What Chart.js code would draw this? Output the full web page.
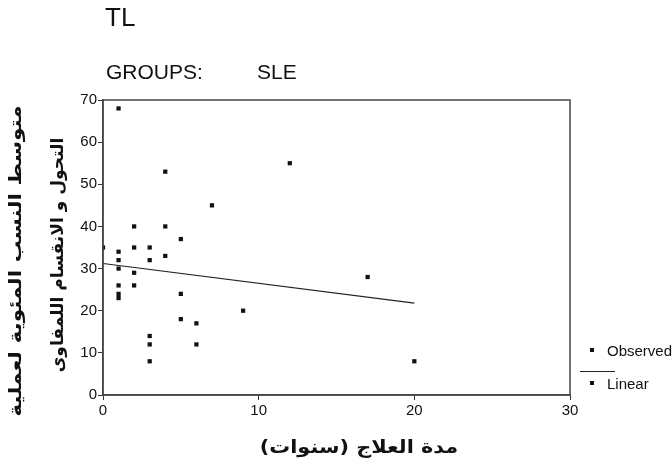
<!DOCTYPE html>
<html>
<head>
<meta charset="utf-8">
<script src="https://cdn.jsdelivr.net/npm/chart.js@4/dist/chart.umd.min.js"></script>
<style>
  html, body { margin: 0; padding: 0; background: #fff; }
  #wrap { position: relative; width: 672px; height: 466px; overflow: hidden; background: #fff; }
  canvas { position: absolute; left: 0; top: 0; }
  .t { position: absolute; font-family: "Liberation Sans", Arial, sans-serif; color: #111; line-height: 1; white-space: nowrap; }
  .ar { position: absolute; font-family: "DejaVu Sans", sans-serif; font-weight: bold; color: #111; line-height: 1; white-space: nowrap; }
  .mk { position: absolute; width: 4px; height: 4px; background: #111; }
  .ln { position: absolute; height: 1px; background: #222; }
</style>
</head>
<body>
<div id="wrap">
  <canvas id="c" width="672" height="466"></canvas>
  <div class="t" style="left:105px; top:4px; font-size:26px;">TL</div>
  <div class="t" style="left:106px; top:61px; font-size:21px;">GROUPS:</div>
  <div class="t" style="left:257px; top:61px; font-size:21px;">SLE</div>
  <div class="mk" style="left:590px; top:348px;"></div>
  <div class="t" style="left:607px; top:343px; font-size:15px;">Observed</div>
  <div class="ln" style="left:580px; top:371px; width:35px;"></div>
  <div class="mk" style="left:590px; top:381px;"></div>
  <div class="t" style="left:607px; top:376px; font-size:15px;">Linear</div>
  <div class="ar" id="yt1" dir="rtl" style="font-size:17px;"></div>
  <div class="ar" id="yt2" dir="rtl" style="font-size:17px;"></div>
  <div class="ar" id="xt" dir="rtl" style="font-size:18px;"></div>
</div>
<script>
// Observed data: treatment duration (years) vs mean percentage
const durationYears = [0, 1, 1, 1, 1, 1, 1, 1, 2, 2, 2, 2, 3, 3, 3, 3, 3, 4, 4, 4, 5, 5, 5, 6, 6, 7, 9, 12, 17, 20];
const meanPercent   = [35, 68, 34, 32, 30, 26, 24, 23, 40, 35, 29, 26, 35, 32, 14, 12, 8, 53, 40, 33, 37, 24, 18, 17, 12, 45, 20, 55, 28, 8];
// Linear fit line endpoints
const fitX = [0, 20];
const fitY = [31.2, 21.8];
// Axis ticks
const xTicks = [0, 10, 20, 30];
const yTicks = [0, 10, 20, 30, 40, 50, 60, 70];

const xTitle = 'مدة العلاج (سنوات)';
const yTitle = ['متوسط النسب المئوية لعملية', 'التحول و الانقسام اللمفاوى'];

// Place Arabic titles (center x, center y, target length, rotated?)
function placeTitle(id, text, cx, cy, len, rotate) {
  const el = document.getElementById(id);
  el.textContent = text;
  const w = el.offsetWidth;
  const k = len / w;
  el.style.left = cx + 'px';
  el.style.top = cy + 'px';
  el.style.transform = 'translate(-50%,-50%)' + (rotate ? ' rotate(-90deg)' : '') + ' scaleX(' + k.toFixed(3) + ')';
}
placeTitle('yt1', yTitle[0], 15, 261, 312, true);
placeTitle('yt2', yTitle[1], 57, 255, 235, true);
placeTitle('xt', xTitle, 359, 447, 198, false);

const observed = durationYears.map((x, i) => ({ x: x, y: meanPercent[i] }));
const linear = fitX.map((x, i) => ({ x: x, y: fitY[i] }));

const frame = {
  id: 'frame',
  afterDatasetsDraw(chart) {
    const a = chart.chartArea;
    const ctx = chart.ctx;
    ctx.save();
    ctx.strokeStyle = '#444';
    ctx.lineWidth = 1.5;
    ctx.strokeRect(a.left, a.top, a.right - a.left, a.bottom - a.top);
    ctx.restore();
  }
};

const tickFont = { family: '"Liberation Sans", Arial, sans-serif', size: 15 };

new Chart(document.getElementById('c'), {
  type: 'scatter',
  data: {
    datasets: [
      {
        label: 'Observed',
        data: observed,
        pointStyle: 'rect',
        pointRadius: 3,
        borderWidth: 0,
        backgroundColor: '#111',
        borderColor: '#111'
      },
      {
        label: 'Linear',
        type: 'line',
        data: linear,
        borderColor: '#222',
        borderWidth: 1.2,
        pointRadius: 0,
        fill: false,
        tension: 0
      }
    ]
  },
  options: {
    responsive: false,
    animation: false,
    devicePixelRatio: 1,
    layout: { padding: { left: 0, right: 102, top: 100, bottom: 0 } },
    plugins: { legend: { display: false }, tooltip: { enabled: false } },
    scales: {
      x: {
        type: 'linear',
        min: 0, max: 30,
        afterBuildTicks(s) { s.ticks = xTicks.map(v => ({ value: v })); },
        afterFit(s) { s.height = 71; },
        ticks: { font: tickFont, color: '#111', padding: 2, maxRotation: 0 },
        grid: { drawOnChartArea: false, drawTicks: true, tickLength: 5, color: '#333' },
        border: { display: true, color: '#444', width: 1.5 }
      },
      y: {
        type: 'linear',
        min: 0, max: 70,
        afterBuildTicks(s) { s.ticks = yTicks.map(v => ({ value: v })); },
        afterFit(s) { s.width = 103; },
        ticks: { font: tickFont, color: '#111', padding: 1 },
        grid: { drawOnChartArea: false, drawTicks: true, tickLength: 5, color: '#333' },
        border: { display: true, color: '#444', width: 1.5 }
      }
    }
  },
  plugins: [frame]
});
</script>
</body>
</html>
